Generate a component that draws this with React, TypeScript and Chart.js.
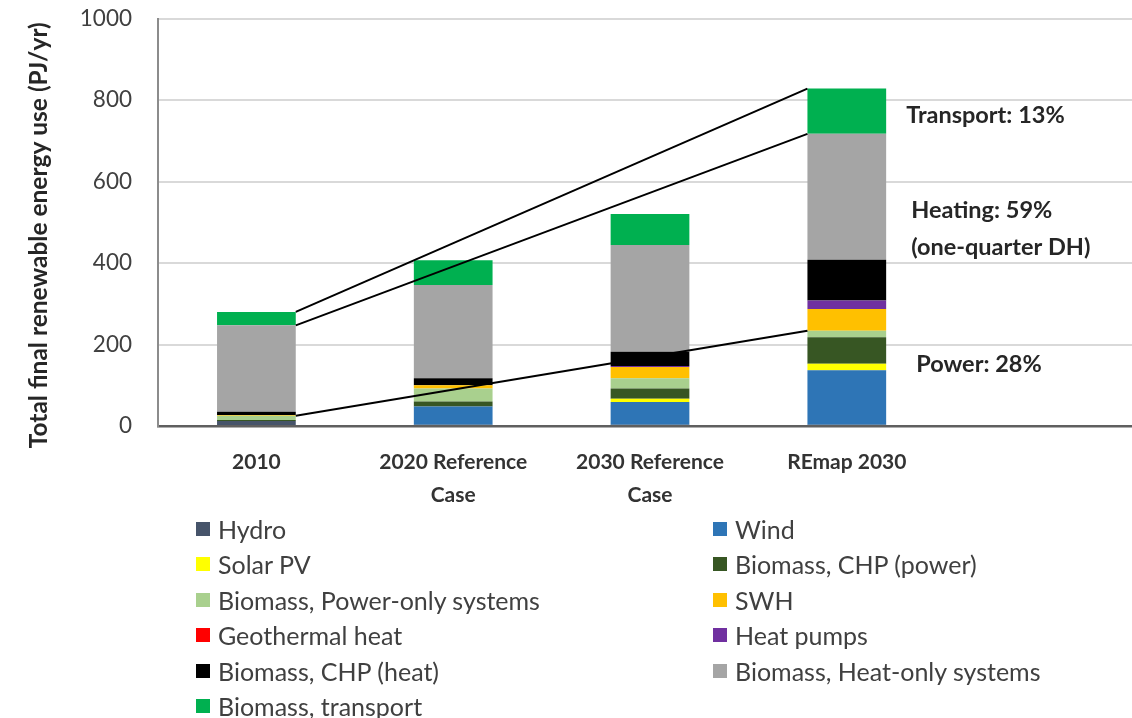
import React, { useEffect, useRef } from "react";
import { Chart, registerables } from "chart.js";

Chart.register(...registerables);

const categories: (string | string[])[] = [
  "2010",
  ["2020 Reference", "Case"],
  ["2030 Reference", "Case"],
  "REmap 2030",
  "",
];

const seriesNames = [
  "Hydro",
  "Wind",
  "Solar PV",
  "Biomass, CHP (power)",
  "Biomass, Power-only systems",
  "SWH",
  "Geothermal heat",
  "Heat pumps",
  "Biomass, CHP (heat)",
  "Biomass, Heat-only systems",
  "Biomass, transport",
];

const seriesColors = [
  "#46546a",
  "#2e75b6",
  "#ffff00",
  "#375623",
  "#a9d08e",
  "#ffc000",
  "#ff0000",
  "#7030a0",
  "#000000",
  "#a5a5a5",
  "#00b050",
];

const hydro = [12, 3, 3, 3, 0];
const wind = [0, 45, 56, 134, 0];
const solarPV = [0, 0, 8, 16, 0];
const biomassCHPPower = [3, 12, 25, 65, 0];
const biomassPowerOnly = [10, 32, 25, 16, 0];
const swh = [2, 8, 28, 53, 0];
const geothermal = [0, 0, 0, 0, 0];
const heatPumps = [0, 0, 2, 21, 0];
const biomassCHPHeat = [8, 17, 35, 100, 0];
const biomassHeatOnly = [212, 229, 262, 309, 0];
const biomassTransport = [33, 61, 76, 111, 0];

const seriesValues = [
  hydro,
  wind,
  solarPV,
  biomassCHPPower,
  biomassPowerOnly,
  swh,
  geothermal,
  heatPumps,
  biomassCHPHeat,
  biomassHeatOnly,
  biomassTransport,
];

const yTicks = [0, 200, 400, 600, 800, 1000];
const yTitle = "Total final renewable energy use (PJ/yr)";

// connector lines: from category, to category, top of stack through series index
const connectorFrom = [0, 0, 0];
const connectorTo = [3, 3, 3];
const connectorLevel = [10, 9, 4];

// side annotations (text lines and the value they sit at)
const annotationTexts = ["Transport: 13%", "Heating: 59%", "(one-quarter DH)", "Power: 28%"];
const annotationValues = [762, 529, 439, 150];
const annotationOffsets = [20, 25, 25, 30];

const FONT = "Lato, 'Open Sans', sans-serif";
const SHIFT = 21;

export default function App() {
  const ref = useRef<HTMLCanvasElement | null>(null);

  useEffect(() => {
    document.body.style.margin = "0";
    const canvas = ref.current;
    if (!canvas) return;

    const extras = {
      id: "extras",
      afterDatasetsDraw(chart: any) {
        const ctx = chart.ctx;
        const y = chart.scales.y;
        const meta = chart.getDatasetMeta(0);
        ctx.save();
        ctx.strokeStyle = "#000000";
        ctx.lineWidth = 2;
        for (let i = 0; i < connectorFrom.length; i++) {
          const a = connectorFrom[i];
          const b = connectorTo[i];
          let va = 0;
          let vb = 0;
          for (let s = 0; s <= connectorLevel[i]; s++) {
            va += seriesValues[s][a];
            vb += seriesValues[s][b];
          }
          const ea = meta.data[a] as any;
          const eb = meta.data[b] as any;
          ctx.beginPath();
          ctx.moveTo(ea.x + ea.width / 2, y.getPixelForValue(va));
          ctx.lineTo(eb.x - eb.width / 2, y.getPixelForValue(vb));
          ctx.stroke();
        }
        // annotations
        const eb = meta.data[3] as any;
        ctx.fillStyle = "#262626";
        ctx.font = `bold 23.5px ${FONT}`;
        ctx.textBaseline = "middle";
        ctx.textAlign = "left";
        for (let i = 0; i < annotationTexts.length; i++) {
          ctx.fillText(
            annotationTexts[i],
            eb.x + eb.width / 2 + annotationOffsets[i],
            y.getPixelForValue(annotationValues[i])
          );
        }
        ctx.restore();
      },
      afterDraw(chart: any) {
        const ctx = chart.ctx;
        const area = chart.chartArea;
        ctx.save();
        ctx.translate(39, (area.top + area.bottom) / 2 + 13);
        ctx.rotate(-Math.PI / 2);
        ctx.fillStyle = "#262626";
        ctx.font = `bold 24.5px ${FONT}`;
        ctx.textAlign = "center";
        ctx.textBaseline = "middle";
        ctx.fillText(yTitle, 0, 0);
        ctx.restore();
      },
    };

    const chart = new Chart(canvas, {
      type: "bar",
      data: {
        labels: categories as any,
        datasets: seriesNames.map((name, i) => ({
          label: name,
          data: seriesValues[i],
          backgroundColor: seriesColors[i],
          borderWidth: 0,
          categoryPercentage: 1,
          barPercentage: 0.4,
        })),
      },
      options: {
        animation: false,
        responsive: false,
        devicePixelRatio: 1,
        layout: { padding: 0 },
        plugins: {
          legend: { display: false },
          tooltip: { enabled: false },
        },
        scales: {
          x: {
            stacked: true,
            grid: { display: false, drawTicks: false },
            border: { display: true, color: "#5f5f5f", width: 2.5 },
            ticks: {
              color: "#333333",
              font: { family: FONT, size: 21, weight: "bold", lineHeight: 1.55 },
              padding: 20,
              maxRotation: 0,
              autoSkip: false,
            },
            afterFit(scale: any) {
              scale.height = 292;
            },
          },
          y: {
            stacked: true,
            min: 0,
            max: 1000,
            afterBuildTicks(scale: any) {
              scale.ticks = yTicks.map((v) => ({ value: v }));
            },
            grid: { color: "#d9d9d9", lineWidth: 2, drawTicks: false },
            border: { display: true, color: "#8c8c8c", width: 2 },
            ticks: {
              color: "#404040",
              font: { family: FONT, size: 22.5 },
              padding: 26,
              callback: (v: any) => String(v),
            },
            afterFit(scale: any) {
              scale.width = 158;
            },
          },
        },
      },
      plugins: [extras],
    });

    return () => chart.destroy();
  }, []);

  const legendItems = seriesNames.map((name, i) => ({ name, color: seriesColors[i], i }));

  return (
    <div
      style={{
        position: "fixed",
        left: 0,
        top: 0,
        width: 1132,
        height: 718,
        overflow: "hidden",
        background: "#ffffff",
      }}
    >
      <canvas
        ref={ref}
        width={1142}
        height={718 + SHIFT}
        style={{ position: "absolute", left: 0, top: -SHIFT, width: 1142, height: 718 + SHIFT }}
      />
      {legendItems.map((it) => {
        const col = it.i % 2;
        const row = Math.floor(it.i / 2);
        return (
          <div
            key={it.name}
            style={{
              position: "absolute",
              left: col === 0 ? 196 : 713,
              top: 529 + row * 35.4 - 16,
              height: 32,
              display: "flex",
              alignItems: "center",
              fontFamily: FONT,
              fontSize: 25,
              color: "#404040",
              whiteSpace: "nowrap",
            }}
          >
            <span
              style={{
                display: "inline-block",
                width: 14,
                height: 14,
                background: it.color,
                marginRight: 8,
              }}
            />
            {it.name}
          </div>
        );
      })}
    </div>
  );
}
